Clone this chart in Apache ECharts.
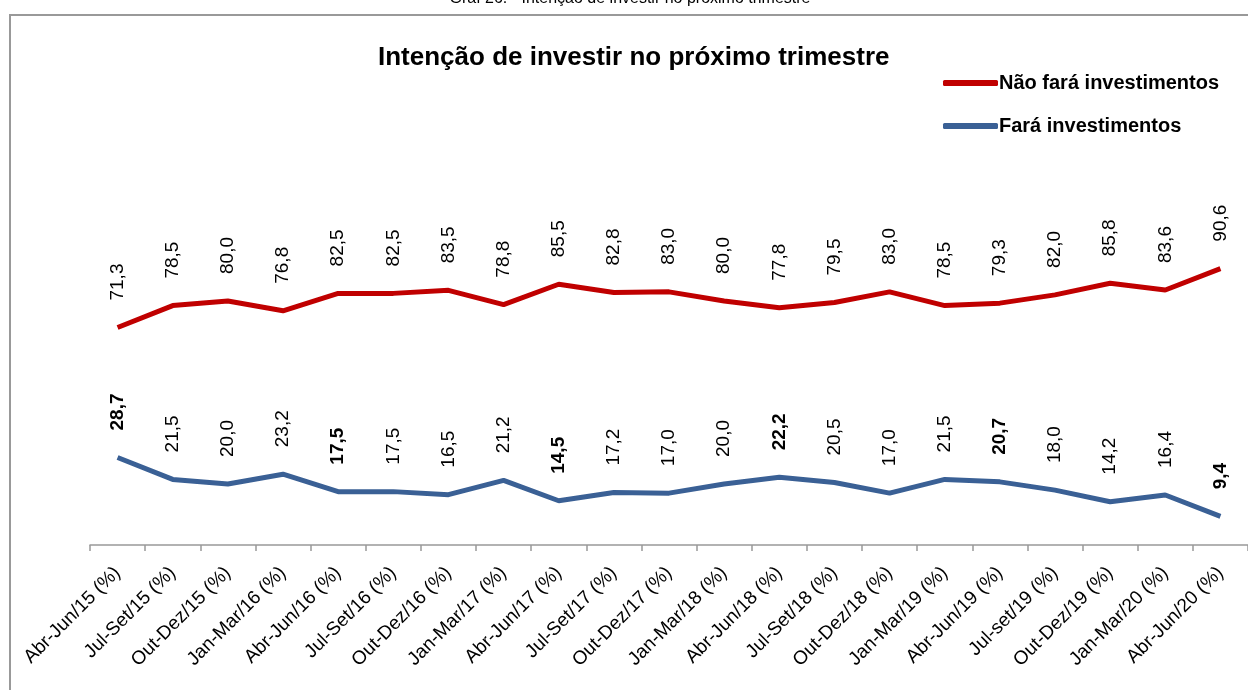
<!DOCTYPE html>
<html>
<head>
<meta charset="utf-8">
<script src="https://cdn.jsdelivr.net/npm/echarts@6/dist/echarts.min.js"></script>
<style>
  html, body { margin: 0; padding: 0; background: #fff; }
  #chart { width: 1248px; height: 690px; }
</style>
</head>
<body>
<div id="chart"></div>
<script>
const categories = [
  'Abr-Jun/15 (%)', 'Jul-Set/15 (%)', 'Out-Dez/15 (%)', 'Jan-Mar/16 (%)',
  'Abr-Jun/16 (%)', 'Jul-Set/16 (%)', 'Out-Dez/16 (%)', 'Jan-Mar/17 (%)',
  'Abr-Jun/17 (%)', 'Jul-Set/17 (%)', 'Out-Dez/17 (%)', 'Jan-Mar/18 (%)',
  'Abr-Jun/18 (%)', 'Jul-Set/18 (%)', 'Out-Dez/18 (%)', 'Jan-Mar/19 (%)',
  'Abr-Jun/19 (%)', 'Jul-set/19 (%)', 'Out-Dez/19 (%)', 'Jan-Mar/20 (%)',
  'Abr-Jun/20 (%)'
]
const naoFara = [71.3, 78.5, 80.0, 76.8, 82.5, 82.5, 83.5, 78.8, 85.5, 82.8, 83.0,
  80.0, 77.8, 79.5, 83.0, 78.5, 79.3, 82.0, 85.8, 83.6, 90.6]
const fara = [28.7, 21.5, 20.0, 23.2, 17.5, 17.5, 16.5, 21.2, 14.5, 17.2, 17.0,
  20.0, 22.2, 20.5, 17.0, 21.5, 20.7, 18.0, 14.2, 16.4, 9.4]
// labels shown in bold on the blue line
const boldIdx = [0, 4, 8, 12, 16, 20]

const FONT = 'Liberation Sans, Arial, sans-serif'
const fmt = v => v.toFixed(1).replace('.', ',')

const labelBase = {
  show: true,
  position: 'top',
  distance: 27,
  rotate: 90,
  align: 'left',
  verticalAlign: 'middle',
  color: '#000',
  fontFamily: FONT,
  fontSize: 19,
  formatter: p => fmt(p.value)
}

const chart = echarts.init(document.getElementById('chart'))
chart.setOption({
  animation: false,
  backgroundColor: '#fff',
  title: {
    text: 'Intenção de investir no próximo trimestre',
    left: 378,
    top: 45,
    padding: 0,
    textStyle: { fontFamily: FONT, fontSize: 26, fontWeight: 'bold', color: '#000' }
  },
  legend: {
    orient: 'vertical',
    left: 938,
    top: 68,
    itemGap: 23,
    itemWidth: 55,
    itemHeight: 6,
    icon: 'roundRect',
    textStyle: { fontFamily: FONT, fontSize: 20, fontWeight: 'bold', color: '#000', padding: [0, 0, 0, -4] },
    data: ['Não fará investimentos', 'Fará investimentos']
  },
  graphic: [
    {
      type: 'rect',
      shape: { x: 10, y: 15, width: 1260, height: 700 },
      style: { fill: 'none', stroke: '#999', lineWidth: 2 },
      silent: true
    },
    {
      type: 'text',
      x: 630,
      y: -9,
      style: {
        text: 'Graf 26: - Intenção de investir no próximo trimestre',
        font: '16px ' + FONT,
        fill: '#000',
        align: 'center',
        verticalAlign: 'top'
      }
    }
  ],
  grid: { left: 90, top: 240, width: 1163, bottom: 145, containLabel: false },
  xAxis: {
    type: 'category',
    data: categories,
    boundaryGap: true,
    axisLine: { lineStyle: { color: '#999', width: 1.5 } },
    axisTick: { show: true, length: 6, lineStyle: { color: '#999', width: 1.5 } },
    axisLabel: {
      interval: 0,
      rotate: 45,
      margin: 25,
      color: '#000',
      fontFamily: FONT,
      fontSize: 19
    }
  },
  yAxis: {
    type: 'value',
    min: 0,
    max: 100,
    show: false,
    splitLine: { show: false }
  },
  series: [
    {
      name: 'Não fará investimentos',
      type: 'line',
      data: naoFara,
      symbol: 'circle',
      symbolSize: 0,
      showSymbol: true,
      color: '#C00000',
      lineStyle: { width: 5, color: '#C00000' },
      label: labelBase
    },
    {
      name: 'Fará investimentos',
      type: 'line',
      data: fara.map((v, i) => boldIdx.includes(i)
        ? { value: v, label: { fontWeight: 'bold' } }
        : v),
      symbol: 'circle',
      symbolSize: 0,
      showSymbol: true,
      color: '#3A6095',
      lineStyle: { width: 5, color: '#3A6095' },
      label: labelBase
    }
  ]
})
</script>
</body>
</html>
